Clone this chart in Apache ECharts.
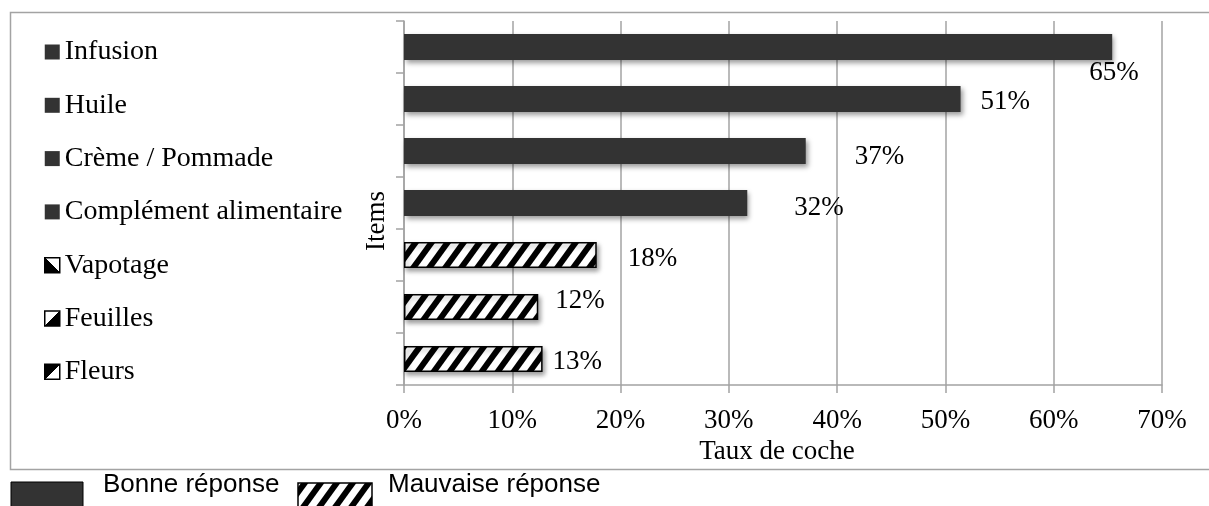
<!DOCTYPE html>
<html>
    <head>
        <title>echarts</title>
        <meta http-equiv="content-type" content="text/html; charset=utf-8">
        <style type="text/css">
            html,
            body {
                height: 100%;
                width: 100%;
                background: #fff;
                margin: 0;
            }
            #echarts {
                width: 1209px;
                height: 506px;
            }
        </style>
    </head>
    <body>
        <div id="echarts"></div>
        <script src="https://cdn.jsdelivr.net/npm/echarts@6/dist/echarts.min.js"></script>
        <script>
            // données
            let categories = ['Infusion', 'Huile', 'Crème / Pommade', 'Complément alimentaire', 'Vapotage', 'Feuilles', 'Fleurs'];
            let rates = [65.4, 51.4, 37.1, 31.7, 17.8, 12.4, 12.8];
            let goodAnswer = [true, true, true, true, false, false, false];
            let xTicks = [0, 10, 20, 30, 40, 50, 60, 70];

            // décalage des étiquettes (dx, dy) par rapport au bout de la barre
            let labelShift = [[-23, 26], [20, 3], [49, 6], [47, 5], [31, 4], [17, -6], [10, 3]];

            let serif = 'Liberation Serif';
            let dark = '#333333';
            let grey = '#a3a3a3';

            // motif hachuré
            let cv = document.createElement('canvas');
            cv.width = 16;
            cv.height = 22;
            let ctx = cv.getContext('2d');
            ctx.fillStyle = '#fff';
            ctx.fillRect(0, 0, 16, 22);
            ctx.strokeStyle = '#000';
            ctx.lineWidth = 6;
            for (let k = -1; k <= 1; k++) {
                ctx.beginPath();
                ctx.moveTo(k * 16 - 16, 44);
                ctx.lineTo(k * 16 + 32, -22);
                ctx.stroke();
            }
            let hatch = {image: cv, repeat: 'repeat'};

            function half(x, y, x2, y2) {
                return {
                    type: 'linear', x: x, y: y, x2: x2, y2: y2,
                    colorStops: [
                        {offset: 0, color: '#000'}, {offset: 0.5, color: '#000'},
                        {offset: 0.5, color: '#fff'}, {offset: 1, color: '#fff'}
                    ]
                };
            }
            let iconFills = [dark, dark, dark, dark, half(0, 1, 1, 0), half(1, 1, 0, 0), half(0, 0, 1, 1)];

            let series = categories.map(function (name, i) {
                return {
                    name: name,
                    type: 'bar',
                    stack: 'all',
                    barWidth: '50%',
                    itemStyle: goodAnswer[i] ? {
                        color: dark,
                        shadowBlur: 5, shadowOffsetX: 2, shadowOffsetY: 3, shadowColor: 'rgba(0,0,0,0.4)'
                    } : {
                        color: hatch, borderColor: '#000', borderWidth: 1.5,
                        shadowBlur: 5, shadowOffsetX: 2, shadowOffsetY: 3, shadowColor: 'rgba(0,0,0,0.4)'
                    },
                    label: {
                        show: true,
                        position: 'right',
                        distance: 0,
                        offset: labelShift[i],
                        fontFamily: serif,
                        fontSize: 27,
                        color: '#000',
                        formatter: function (p) {
                            return Math.round(p.value) + '%';
                        }
                    },
                    data: categories.map(function (c, j) {
                        return j === i ? rates[i] : '-';
                    })
                };
            });

            let myChart = echarts.init(document.getElementById('echarts'));
            let option = {
                animation: false,
                grid: {left: 404, right: 47, top: 21, bottom: 121},
                legend: {
                    orient: 'vertical',
                    left: 44,
                    top: 38,
                    padding: 0,
                    itemWidth: 15,
                    itemHeight: 15,
                    itemGap: 25.3,
                    selectedMode: false,
                    icon: 'rect',
                    textStyle: {fontFamily: serif, fontSize: 28, color: '#000', lineHeight: 21, padding: [6, 0, 0, 0]},
                    itemStyle: {shadowBlur: 0, shadowColor: 'transparent', borderWidth: 0},
                    data: categories.map(function (c, i) {
                        return {
                            name: c,
                            itemStyle: goodAnswer[i] ? {color: iconFills[i], borderWidth: 0} :
                                {color: iconFills[i], borderColor: '#000', borderWidth: 1.5}
                        };
                    })
                },
                xAxis: {
                    type: 'value',
                    min: xTicks[0],
                    max: xTicks[xTicks.length - 1],
                    interval: 10,
                    name: 'Taux de coche',
                    nameLocation: 'middle',
                    nameGap: 50,
                    nameTextStyle: {fontFamily: serif, fontSize: 27, color: '#000', padding: [0, 12, 0, 0]},
                    axisLine: {show: true, lineStyle: {color: grey, width: 1.5}},
                    axisTick: {show: true, length: 8, lineStyle: {color: grey, width: 1.5}},
                    splitLine: {show: true, lineStyle: {color: grey, width: 1.5}},
                    axisLabel: {
                        fontFamily: serif, fontSize: 27, color: '#000', margin: 22,
                        formatter: '{value}%'
                    }
                },
                yAxis: {
                    type: 'category',
                    inverse: true,
                    data: categories,
                    axisLine: {show: true, lineStyle: {color: grey, width: 1.5}},
                    axisTick: {show: true, length: 8, lineStyle: {color: grey, width: 1.5}},
                    axisLabel: {show: false}
                },
                graphic: [
                    {
                        type: 'rect',
                        silent: true,
                        shape: {x: 10.5, y: 12.5, width: 1220, height: 457},
                        style: {fill: 'none', stroke: grey, lineWidth: 1.5}
                    },
                    {
                        type: 'text',
                        x: 377, y: 221,
                        rotation: Math.PI / 2,
                        style: {text: 'Items', font: '27px "Liberation Serif"', fill: '#000', textAlign: 'center', textVerticalAlign: 'middle'}
                    },
                    {
                        type: 'rect',
                        shape: {x: 11, y: 482, width: 72, height: 40},
                        style: {fill: dark, stroke: '#000', lineWidth: 1}
                    },
                    {
                        type: 'text',
                        x: 103, y: 485,
                        style: {text: 'Bonne réponse', font: '26px "Liberation Sans"', fill: '#000', textVerticalAlign: 'middle'}
                    },
                    {
                        type: 'rect',
                        shape: {x: 298, y: 483, width: 74, height: 40},
                        style: {fill: hatch, stroke: '#000', lineWidth: 1.5}
                    },
                    {
                        type: 'text',
                        x: 388, y: 485,
                        style: {text: 'Mauvaise réponse', font: '26px "Liberation Sans"', fill: '#000', textVerticalAlign: 'middle'}
                    }
                ],
                series: series
            };
            myChart.setOption(option);
        </script>
    </body>
</html>
